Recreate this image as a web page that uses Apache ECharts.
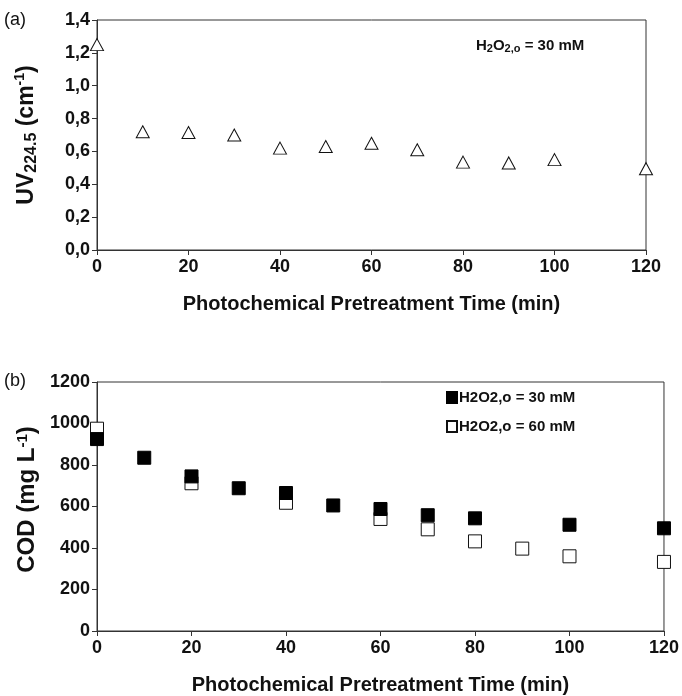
<!DOCTYPE html>
<html>
<head>
<meta charset="utf-8">
<script src="https://cdn.jsdelivr.net/npm/echarts@6/dist/echarts.min.js"></script>
<style>html,body{margin:0;padding:0;background:#fff;}#c{width:682px;height:696px;}</style>
</head>
<body>
<div id="c"></div>
<script>
// Panel (a): UV224.5 absorbance vs time, H2O2,o = 30 mM
const timeA = [0, 10, 20, 30, 40, 50, 60, 70, 80, 90, 100, 120];
const uvA = [1.25, 0.72, 0.715, 0.70, 0.62, 0.63, 0.65, 0.61, 0.535, 0.53, 0.55, 0.495];
// Panel (b): COD vs time
const time30 = [0, 10, 20, 30, 40, 50, 60, 70, 80, 100, 120];
const cod30 = [925, 835, 745, 688, 665, 605, 588, 558, 543, 512, 495];
const time60 = [0, 20, 40, 60, 70, 80, 90, 100, 120];
const cod60 = [975, 712, 618, 540, 490, 432, 397, 360, 333];
const xTicks = [0, 20, 40, 60, 80, 100, 120];
const legendNames = ['H2O2,o = 30 mM', 'H2O2,o = 60 mM'];

const FONT = '"Liberation Sans", Arial, sans-serif';
const AX = '#333';
const zip = (xs, ys) => xs.map((x, i) => [x, ys[i]]);

function xAxis(gi) {
  return {
    gridIndex: gi, type: 'value', min: xTicks[0], max: xTicks[xTicks.length - 1], interval: 20,
    name: 'Photochemical Pretreatment Time (min)', nameLocation: 'middle', nameGap: 44,
    nameTextStyle: { fontFamily: FONT, fontWeight: 'bold', fontSize: 20, color: '#111' },
    axisLine: { show: true, lineStyle: { color: AX, width: 1 } },
    axisTick: { show: true, length: 5, lineStyle: { color: AX } },
    axisLabel: { fontFamily: FONT, fontWeight: 'bold', fontSize: 18, color: '#111', margin: 8 },
    splitLine: { show: false }
  };
}

const chart = echarts.init(document.getElementById('c'));
chart.setOption({
  animation: false,
  backgroundColor: '#fff',
  grid: [
    { left: 97, top: 20, right: 36, bottom: 446, show: true, borderColor: AX, borderWidth: 1 },
    { left: 97, top: 382, right: 18, bottom: 60, show: true, borderColor: AX, borderWidth: 1 }
  ],
  xAxis: [xAxis(0), xAxis(1)],
  yAxis: [
    {
      gridIndex: 0, type: 'value', min: 0, max: 1.4, interval: 0.2,
      name: '{a|UV}{sub|224.5}{a| (cm}{sup|-1}{a|)}', nameLocation: 'middle', nameGap: 57,
      nameTextStyle: {
        fontFamily: FONT, fontWeight: 'bold', fontSize: 23, color: '#111',
        rich: {
          a: { fontFamily: FONT, fontWeight: 'bold', fontSize: 23, color: '#111' },
          sub: { fontFamily: FONT, fontWeight: 'bold', fontSize: 16, color: '#111', verticalAlign: 'bottom', padding: [11, 0, 0, 0] },
          sup: { fontFamily: FONT, fontWeight: 'bold', fontSize: 14, color: '#111', verticalAlign: 'top', padding: [0, 0, 9, 0] }
        }
      },
      axisLine: { show: true, lineStyle: { color: AX, width: 1 } },
      axisTick: { show: true, length: 5, lineStyle: { color: AX } },
      axisLabel: { fontFamily: FONT, fontWeight: 'bold', fontSize: 18, color: '#111', margin: 7,
        formatter: v => v.toFixed(1).replace('.', ',') },
      splitLine: { show: false }
    },
    {
      gridIndex: 1, type: 'value', min: 0, max: 1200, interval: 200,
      name: '{a|COD (mg L}{sup|-1}{a|)}', nameLocation: 'middle', nameGap: 58,
      nameTextStyle: {
        fontFamily: FONT, fontWeight: 'bold', fontSize: 24, color: '#111', padding: [0, 0, 0, 14],
        rich: {
          a: { fontFamily: FONT, fontWeight: 'bold', fontSize: 24, color: '#111' },
          sup: { fontFamily: FONT, fontWeight: 'bold', fontSize: 15, color: '#111', verticalAlign: 'top', padding: [0, 0, 9, 0] }
        }
      },
      axisLine: { show: true, lineStyle: { color: AX, width: 1 } },
      axisTick: { show: true, length: 5, lineStyle: { color: AX } },
      axisLabel: { fontFamily: FONT, fontWeight: 'bold', fontSize: 18, color: '#111', margin: 7,
        formatter: v => String(v) },
      splitLine: { show: false }
    }
  ],
  legend: {
    orient: 'vertical', left: 441, top: 385, itemGap: 14,
    icon: 'rect', itemWidth: 10, itemHeight: 11,
    textStyle: { fontFamily: FONT, fontWeight: 'bold', fontSize: 15, color: '#111', padding: [0, 0, 0, -3] },
    data: legendNames
  },
  graphic: [
    { type: 'text', left: 4, top: 11, style: { text: '(a)', font: '18px ' + FONT, fill: '#111' } },
    { type: 'text', left: 4, top: 372, style: { text: '(b)', font: '18px ' + FONT, fill: '#111' } },
    {
      type: 'text', left: 476, top: 38,
      style: {
        text: '{a|H}{s|2}{a|O}{s|2,o}{a| = 30 mM}',
        rich: {
          a: { fontFamily: FONT, fontWeight: 'bold', fontSize: 15, fill: '#111' },
          s: { fontFamily: FONT, fontWeight: 'bold', fontSize: 11, fill: '#111', verticalAlign: 'bottom', padding: [7, 0, 0, 0] }
        }
      }
    }
  ],
  series: [
    {
      type: 'scatter', xAxisIndex: 0, yAxisIndex: 0, data: zip(timeA, uvA),
      symbol: 'triangle', symbolSize: [13, 12],
      itemStyle: { color: '#fff', borderColor: '#111', borderWidth: 1, opacity: 1 }, z: 3
    },
    {
      name: legendNames[1], type: 'scatter', xAxisIndex: 1, yAxisIndex: 1, data: zip(time60, cod60),
      symbol: 'rect', symbolSize: 13,
      itemStyle: { color: '#fff', borderColor: '#111', borderWidth: 1, opacity: 1 }, z: 2
    },
    {
      name: legendNames[0], type: 'scatter', xAxisIndex: 1, yAxisIndex: 1, data: zip(time30, cod30),
      symbol: 'rect', symbolSize: 13,
      itemStyle: { color: '#000', borderColor: '#000', borderWidth: 1, opacity: 1 }, z: 3
    }
  ]
});
</script>
</body>
</html>
